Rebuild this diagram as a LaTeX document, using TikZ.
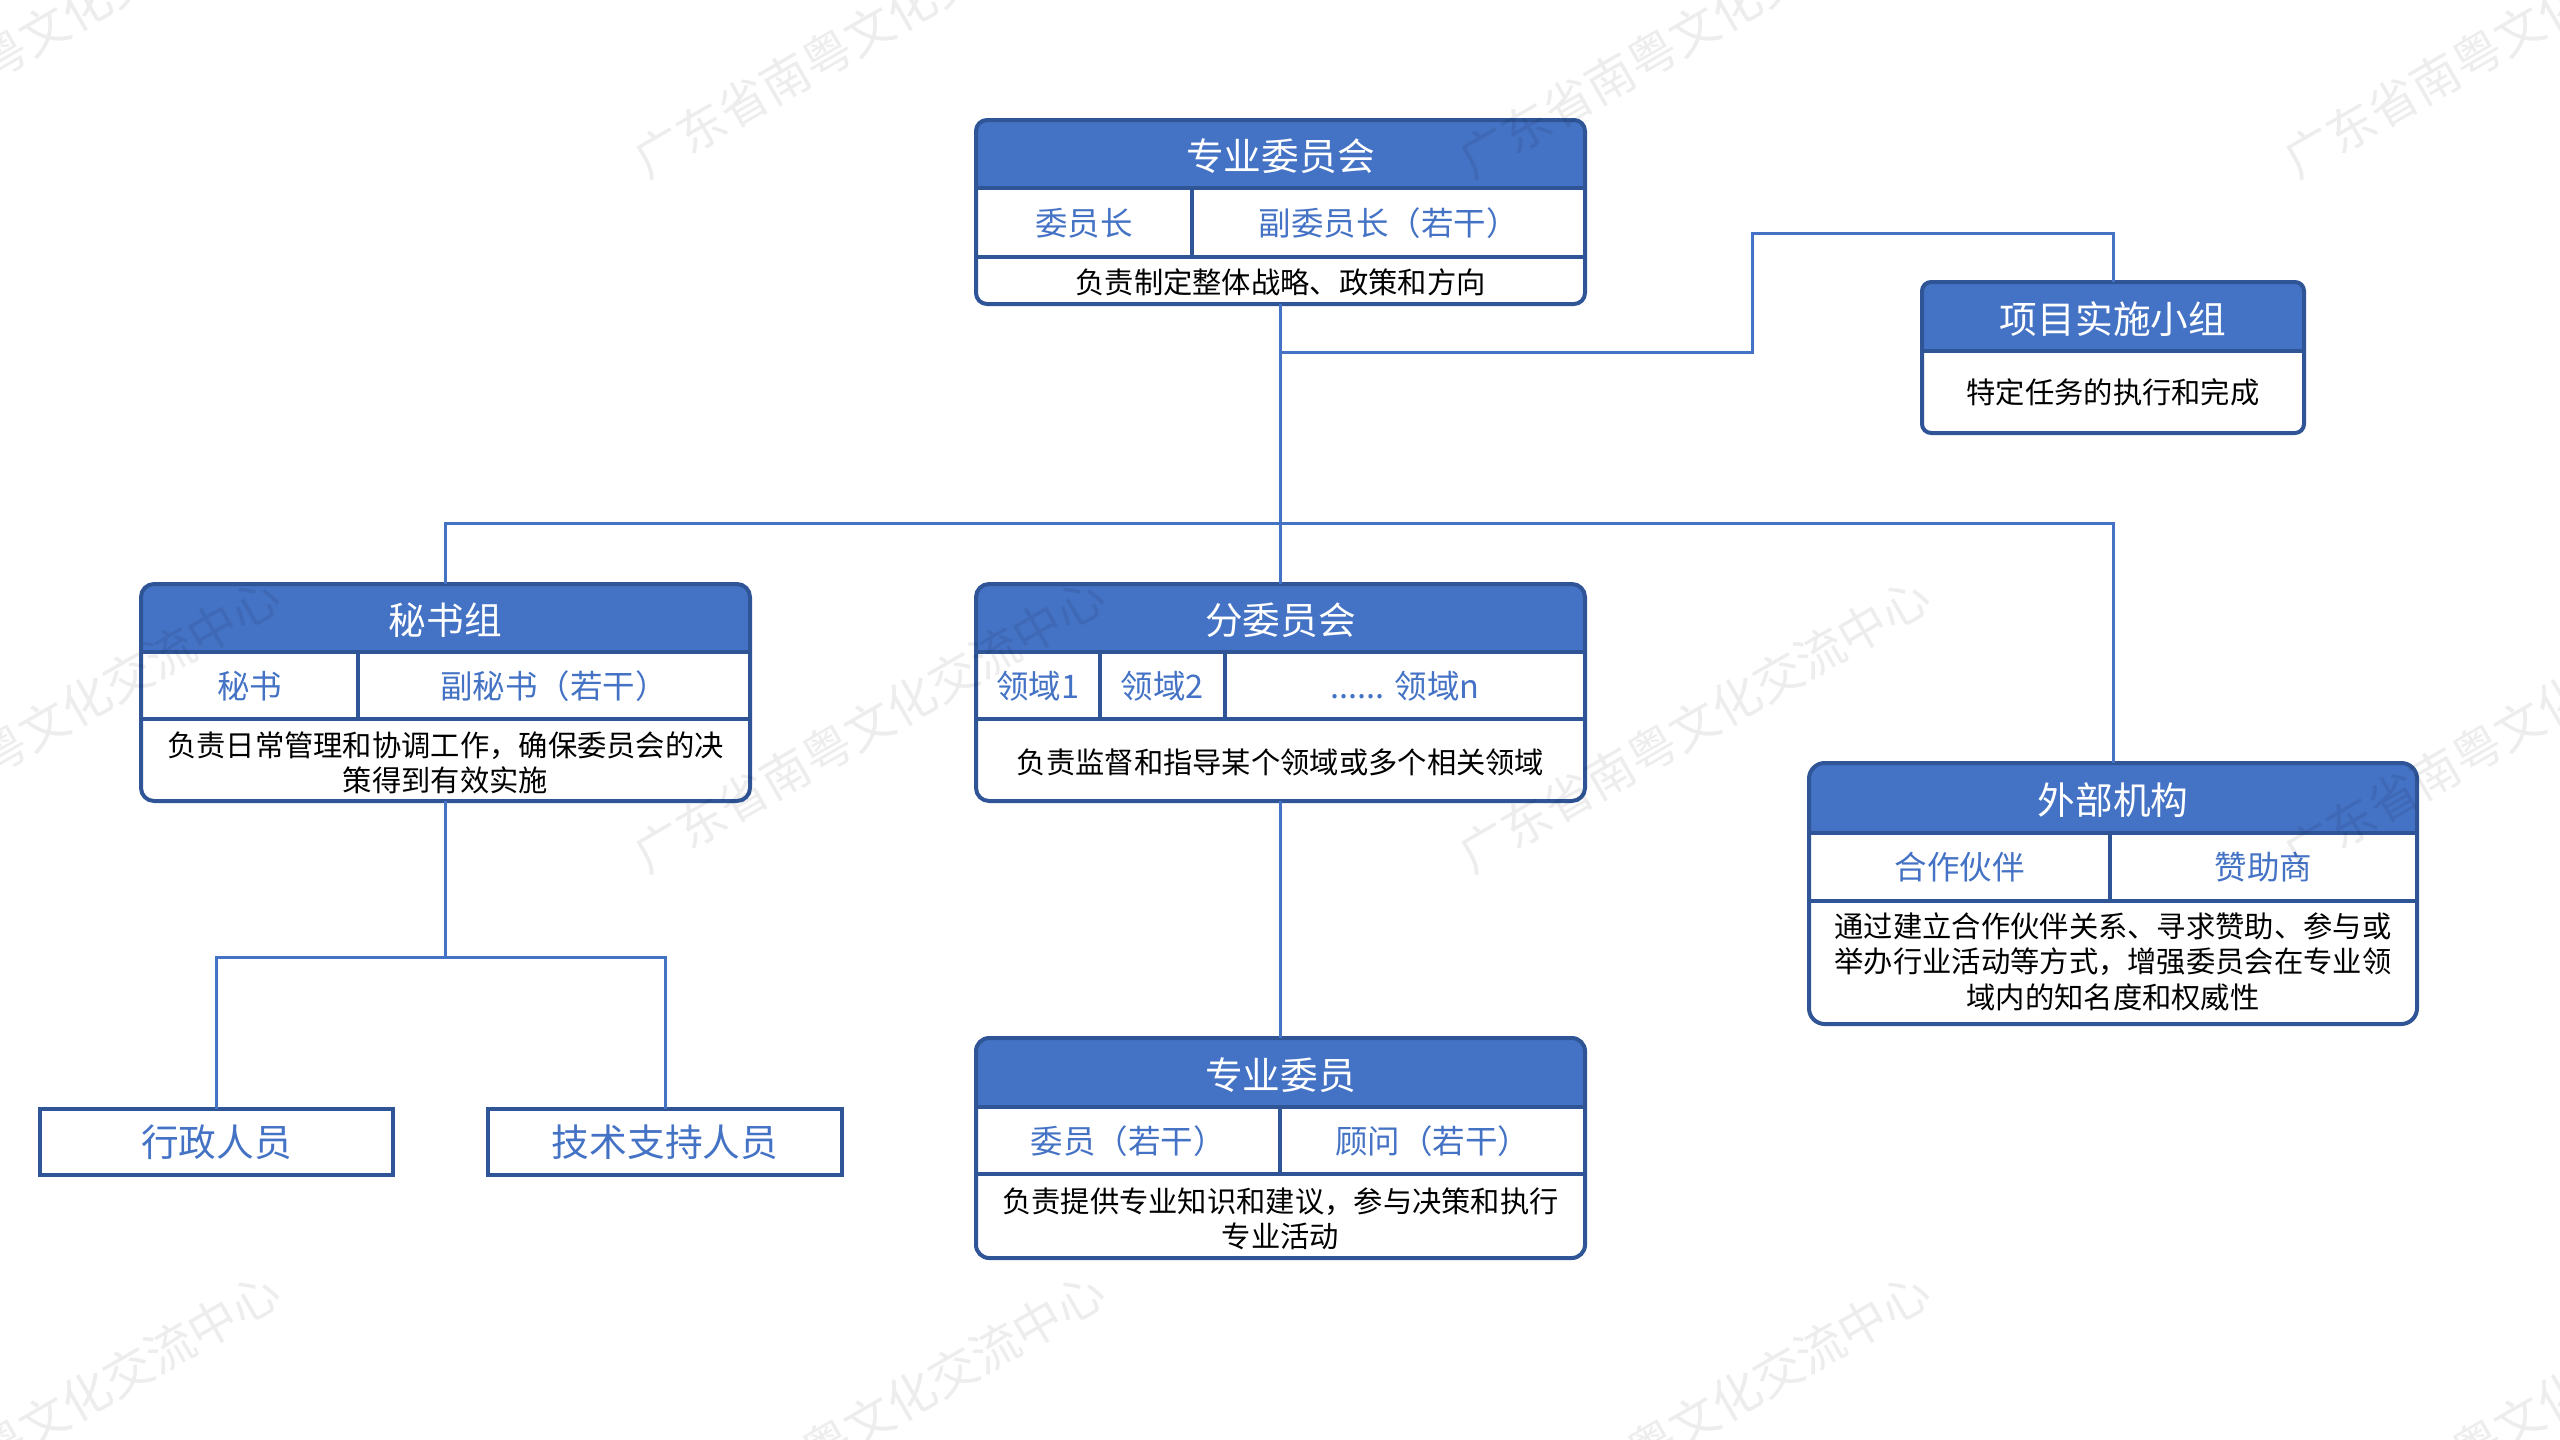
\documentclass[tikz,border=0pt]{standalone}
\usepackage{fontspec}
\setmainfont{Noto Sans CJK SC}
\definecolor{hdrblue}{HTML}{4472C4}
\definecolor{edgeblue}{HTML}{2F5597}
\tikzset{
  x=1pt,y=-1pt,
  hdrtext/.style={inner sep=0pt,outer sep=0pt,text=white,text height=36pt,text depth=3pt,font=\fontsize{37.7}{44}\selectfont},
  rulerow/.style={draw=edgeblue,line width=4pt},
  cellbox/.style={draw=edgeblue,line width=4pt,inner sep=0pt,outer sep=0pt,anchor=north west,text=hdrblue,text height=30pt,text depth=4.6pt,font=\fontsize{32.5}{38}\selectfont},
  descbox/.style={inner sep=0pt,outer sep=0pt,anchor=north west,align=center,text=black,yshift=-2pt,font=\fontsize{29.3}{35.5}\selectfont},
  framebox/.style={draw=edgeblue,line width=4pt,inner sep=0pt,outer sep=0pt,anchor=north west},
  staffbox/.style={draw=edgeblue,line width=4pt,inner sep=0pt,outer sep=0pt,anchor=north west,text=hdrblue,font=\fontsize{37.7}{44}\selectfont},
  linkline/.style={draw=hdrblue,line width=3pt},
  wmark/.style={inner sep=0pt,rotate=30,text=black,text opacity=0.07,font=\fontsize{48.5}{56}\selectfont},
}
% name x1 y1 x2 y2 yheader title
\newcommand\ochead[7]{%
  \pgfmathsetmacro\ocw{#4-#2}\pgfmathsetmacro\och{#6-#3}\pgfmathsetmacro\ocr{0.06*(#5-#3)}%
  \fill[hdrblue] (#2,#6) [rounded corners=\ocr pt] -- (#2,#3) -- (#4,#3) [sharp corners] -- (#4,#6) -- cycle;
  \node[hdrtext,minimum width=\ocw pt,minimum height=\och pt,anchor=north west] (#1h) at (#2,#3) {#7};
  \draw[rulerow] (#1h.south west) -- (#1h.south east);
}
% name x1 y1 x2 y2
\newcommand\ocframe[5]{%
  \pgfmathsetmacro\ocw{#4-#2}\pgfmathsetmacro\och{#5-#3}\pgfmathsetmacro\ocr{0.06*(#5-#3)}%
  \node[framebox,rounded corners=\ocr pt,minimum width=\ocw pt,minimum height=\och pt] (#1) at (#2,#3) {};
}
% name x1 y1 x2 y2 text
\newcommand\occell[6]{%
  \pgfmathsetmacro\ocw{#4-#2}\pgfmathsetmacro\och{#5-#3}%
  \node[cellbox,minimum width=\ocw pt,minimum height=\och pt] (#1) at (#2,#3) {#6};
}
\newcommand\ocdesc[6]{%
  \pgfmathsetmacro\ocw{#4-#2}\pgfmathsetmacro\och{#5-#3}%
  \node[descbox,minimum width=\ocw pt,minimum height=\och pt] (#1) at (#2,#3) {#6};
}
\begin{document}
\begin{tikzpicture}
\useasboundingbox (0,0) rectangle (2560,1440);

% 专业委员会
\ochead{ba}{976}{120}{1585}{304}{188}{专业委员会}
\occell{baa}{976}{188}{1192}{257}{委员长}
\occell{bab}{1192}{188}{1585}{257}{副委员长（若干）}
\ocdesc{bad}{976}{257}{1585}{304}{负责制定整体战略、政策和方向}
\ocframe{ba}{976}{120}{1585}{304}

% 项目实施小组
\ochead{pg}{1922}{282}{2304}{433}{351}{项目实施小组}
\ocdesc{pgd}{1922}{351}{2304}{430}{特定任务的执行和完成}
\ocframe{pg}{1922}{282}{2304}{433}

% 秘书组
\ochead{bb}{141}{584}{750}{801}{652}{秘书组}
\occell{bba}{141}{652}{358}{719}{秘书}
\occell{bbb}{358}{652}{750}{719}{副秘书（若干）}
\ocdesc{bbd}{141}{719}{750}{803}{负责日常管理和协调工作，确保委员会的决\\策得到有效实施}
\ocframe{bb}{141}{584}{750}{801}

% 分委员会
\ochead{bc}{976}{584}{1585}{801}{652}{分委员会}
\occell{bca}{976}{652}{1100}{719}{领域1}
\occell{bcb}{1100}{652}{1225}{719}{领域2}
\occell{bcc}{1225}{652}{1585}{719}{...... 领域n}
\ocdesc{bcd}{976}{719}{1585}{801}{负责监督和指导某个领域或多个相关领域}
\ocframe{bc}{976}{584}{1585}{801}

% 外部机构
\ochead{bd}{1809}{763}{2417}{1024}{833}{外部机构}
\occell{bda}{1809}{833}{2110}{901}{合作伙伴}
\occell{bdb}{2110}{833}{2417}{901}{赞助商}
\ocdesc{bdd}{1809}{901}{2417}{1018}{通过建立合作伙伴关系、寻求赞助、参与或\\举办行业活动等方式，增强委员会在专业领\\域内的知名度和权威性}
\ocframe{bd}{1809}{763}{2417}{1024}

% 专业委员
\ochead{be}{976}{1038}{1585}{1258}{1107}{专业委员}
\occell{bea}{976}{1107}{1280}{1174}{委员（若干）}
\occell{beb}{1280}{1107}{1585}{1174}{顾问（若干）}
\ocdesc{bed}{976}{1174}{1585}{1260}{负责提供专业知识和建议，参与决策和执行\\专业活动}
\ocframe{be}{976}{1038}{1585}{1258}

% 行政人员 / 技术支持人员
\node[staffbox,minimum width=353pt,minimum height=66pt] (sa) at (40,1109) {行政人员};
\node[staffbox,minimum width=354pt,minimum height=66pt] (sb) at (488,1109) {技术支持人员};

% connectors
\coordinate (ja) at (ba.south |- 0,352);
\coordinate (jb) at (ba.south |- 0,523);
\coordinate (jc) at (bb.south |- 0,957);
\coordinate (cu) at (1752,233);
\draw[linkline] (ba.south) -- (jb);
\draw[linkline] (ja) -| (cu) -| (pg.north);
\draw[linkline] (bb.north) |- (jb);
\draw[linkline] (bd.north) |- (jb);
\draw[linkline] (jb) -- (bc.north);
\draw[linkline] (bc.south) -- (be.north);
\draw[linkline] (bb.south) -- (jc);
\draw[linkline] (sa.north) |- (jc);
\draw[linkline] (sb.north) |- (jc);

% watermark
\foreach \wx/\wy/\wn in {44/30/a,869/30/b,1694/30/c,2519/30/d,44/725/e,869/725/f,1694/725/g,2519/725/h,44/1420/i,869/1420/j,1694/1420/k,2519/1420/l}
  \node[wmark] (wm\wn) at (\wx,\wy) {广东省南粤文化交流中心};
\end{tikzpicture}
\end{document}
